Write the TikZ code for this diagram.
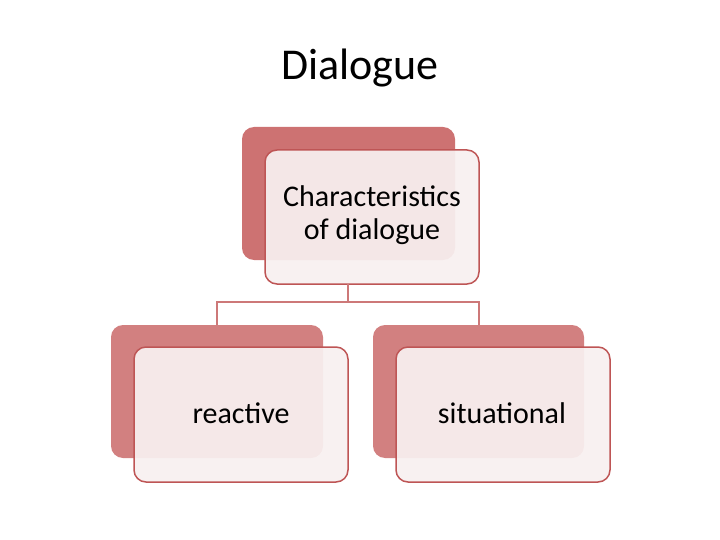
\documentclass[tikz,border=0pt]{standalone}
\usepackage{fontspec}
\setmainfont{Carlito}
\definecolor{backtop}{RGB}{205,114,114}
\definecolor{backbot}{RGB}{210,128,128}
\definecolor{frontfill}{RGB}{248,240,240}
\definecolor{edge}{RGB}{190,85,85}
\definecolor{connc}{RGB}{205,120,120}
\begin{document}
\begin{tikzpicture}[x=1pt,y=-1pt,
  back/.style={fill=#1, draw=none, rounded corners=12pt},
  front/.style={fill=frontfill, fill opacity=0.93, draw=edge, line width=1.5pt, rounded corners=12pt},
  lbl/.style={font=\fontsize{30}{33}\selectfont, align=center, text=black},
  conn/.style={draw=connc, line width=1.2pt}]
\useasboundingbox (0,0) rectangle (720,540);
\node[font=\fontsize{44}{48}\selectfont] (title) at (360,68) {Dialogue};
\fill[back=backtop] (242,127) rectangle (455,260);
\draw[front] (265,150) rectangle (479,284);
\node[lbl] (top) at (372,215) {Characteristics\\of dialogue};
\fill[back=backbot] (111,325) rectangle (323,458);
\draw[front] (134,347) rectangle (348,482);
\node[lbl] (left) at (241,413) {reactive};
\fill[back=backbot] (373,325) rectangle (584,458);
\draw[front] (396,347) rectangle (610,482);
\node[lbl] (right) at (502,413) {situational};
\coordinate (t) at (348,284);
\coordinate (m) at (348,302);
\coordinate (l1) at (217,302);
\coordinate (l2) at (217,325);
\coordinate (r1) at (479,302);
\coordinate (r2) at (479,325);
\draw[conn] (t) -- (m);
\draw[conn] (l2) -- (l1) -- (r1) -- (r2);
\end{tikzpicture}
\end{document}
